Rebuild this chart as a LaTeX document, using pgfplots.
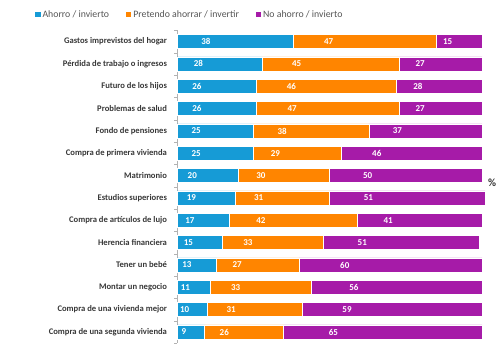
\documentclass[border=0pt]{standalone}
\usepackage{pgfplots}
\pgfplotsset{compat=1.18}
\usepackage{fontspec}
\setmainfont{Carlito}
\definecolor{cblue}{RGB}{22,155,214}
\definecolor{corange}{RGB}{255,133,0}
\definecolor{cpurple}{RGB}{166,27,168}
\definecolor{ctext}{RGB}{55,55,55}
\definecolor{clegend}{RGB}{85,85,85}
\begin{document}
\begin{tikzpicture}
\path[use as bounding box] (0,0) rectangle (500pt,354pt);
\begin{axis}[
  at={(177pt,10.85pt)}, anchor=south west,
  scale only axis, width=305pt, height=312.76pt,
  xbar stacked, bar width=14pt, clip=false,
  xmin=0, xmax=100, ymin=-0.5, ymax=13.5, y dir=reverse,
  axis x line=none, axis y line*=left,
  y axis line style={-, draw=gray!60},
  ytick={0,...,13},
  yticklabels={Gastos imprevistos del hogar, Pérdida de trabajo o ingresos, Futuro de los hijos, Problemas de salud, Fondo de pensiones, Compra de primera vivienda, Matrimonio, Estudios superiores, Compra de artículos de lujo, Herencia financiera, Tener un bebé, Montar un negocio, Compra de una vivienda mejor, Compra de una segunda vivienda},
  major tick length=0pt,
  minor ytick={-0.5,0.5,...,13.5},
  minor tick length=3pt, tick align=outside,
  minor tick style={draw=gray!60},
  yticklabel style={font=\bfseries\fontsize{8.6}{10}\selectfont, text=ctext, xshift=-6.5pt},
  point meta=explicit symbolic,
  nodes near coords={\pgfplotspointmeta},
  every node near coord/.append style={anchor=center, xshift={-0.7625pt*\pgfplotspointmeta}, font=\bfseries\fontsize{9}{10}\selectfont, text=white},
  legend style={at={(-0.475,1.05)}, anchor=west, draw=none, fill=none, legend columns=-1, font=\fontsize{9.8}{11}\selectfont, text=clegend, /tikz/every even column/.append style={column sep=15pt}},
  legend image code/.code={\fill[#1, draw=none] (0pt,-2.6pt) rectangle (5.2pt,2.6pt);},
]
\addplot[fill=cblue, draw=white, line width=0.6pt] coordinates {(38,0) [38] (28,1) [28] (26,2) [26] (26,3) [26] (25,4) [25] (25,5) [25] (20,6) [20] (19,7) [19] (17,8) [17] (15,9) [15] (13,10) [13] (11,11) [11] (10,12) [10] (9,13) [9]};
\addplot[fill=corange, draw=white, line width=0.6pt] coordinates {(47,0) [47] (45,1) [45] (46,2) [46] (47,3) [47] (38,4) [38] (29,5) [29] (30,6) [30] (31,7) [31] (42,8) [42] (33,9) [33] (27,10) [27] (33,11) [33] (31,12) [31] (26,13) [26]};
\addplot[fill=cpurple, draw=white, line width=0.6pt] coordinates {(15,0) [15] (27,1) [27] (28,2) [28] (27,3) [27] (37,4) [37] (46,5) [46] (50,6) [50] (51,7) [51] (41,8) [41] (51,9) [51] (60,10) [60] (56,11) [56] (59,12) [59] (65,13) [65]};
\legend{Ahorro / invierto, Pretendo ahorrar / invertir, No ahorro / invierto}
\node[font=\bfseries\fontsize{11}{12}\selectfont, text=ctext] at (axis description cs:1.033,0.513) {\%};
\end{axis}
\end{tikzpicture}
\end{document}
